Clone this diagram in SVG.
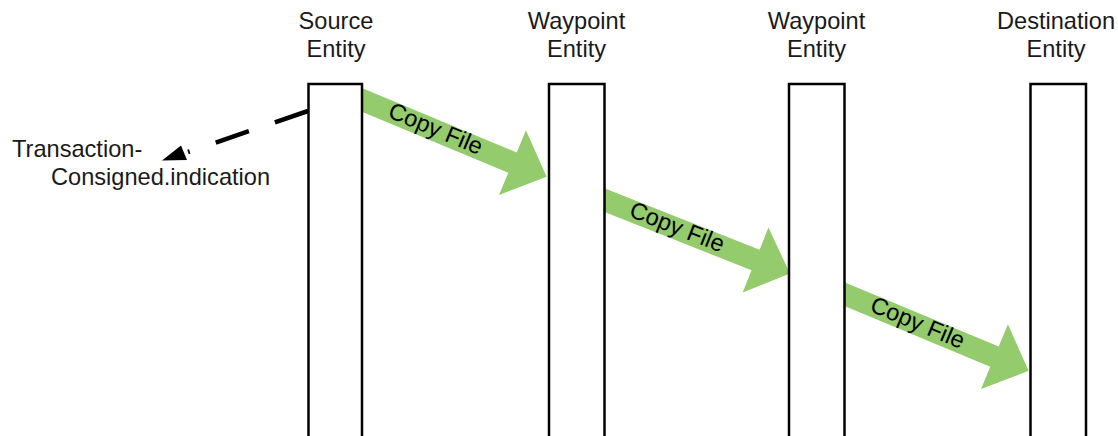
<svg xmlns="http://www.w3.org/2000/svg" width="1118" height="436" viewBox="0 0 1118 436">
<style>
  .lbl{font-family:"Liberation Sans",Arial,sans-serif;font-size:23.6px;fill:#1a1a1a;}
  .hdr{text-anchor:middle;}
  .life{fill:#ffffff;stroke:#000000;stroke-width:2.5;}
  .flow{fill:#94cb6d;stroke:none;}
  .cf{font-family:"Liberation Sans",Arial,sans-serif;font-size:23.6px;fill:#000000;text-anchor:middle;}
  .dash{fill:none;stroke:#000000;stroke-width:4.5;stroke-dasharray:35 27.5;}
</style>
<defs>
  <polygon id="bigArrow" points="-8,-11 163,-11 163,-35 200,0 163,35 163,11 -8,11"/>
</defs>
<rect width="1118" height="436" fill="#ffffff"/>

<g id="connectors">
  <g id="copy1" transform="translate(362,100) rotate(22.6)">
    <use href="#bigArrow" class="flow"/>
    <text class="cf" x="79" y="6">Copy File</text>
  </g>
  <g id="copy2" transform="translate(604,200) rotate(21.6)">
    <use href="#bigArrow" class="flow"/>
    <text class="cf" x="78" y="6">Copy File</text>
  </g>
  <g id="copy3" transform="translate(844,294) rotate(22.6)">
    <use href="#bigArrow" class="flow"/>
    <text class="cf" x="79" y="6">Copy File</text>
  </g>
  <g id="indication">
    <line class="dash" x1="308" y1="111" x2="188" y2="152"/>
    <polygon points="162,160.5 181,145.5 187,160" fill="#000000"/>
  </g>
</g>

<g id="source">
  <rect class="life" x="308.5" y="84" width="53.5" height="380"/>
  <text class="lbl hdr" x="336" y="29">Source</text>
  <text class="lbl hdr" x="336" y="57">Entity</text>
</g>
<g id="waypoint1">
  <rect class="life" x="549" y="84" width="55.5" height="380"/>
  <text class="lbl hdr" x="576.5" y="29">Waypoint</text>
  <text class="lbl hdr" x="576.5" y="57">Entity</text>
</g>
<g id="waypoint2">
  <rect class="life" x="789" y="84" width="55.5" height="380"/>
  <text class="lbl hdr" x="816.5" y="29">Waypoint</text>
  <text class="lbl hdr" x="816.5" y="57">Entity</text>
</g>
<g id="destination">
  <rect class="life" x="1030.5" y="84" width="55.5" height="380"/>
  <text class="lbl hdr" x="1056" y="29">Destination</text>
  <text class="lbl hdr" x="1056" y="57">Entity</text>
</g>
<g id="transaction-label">
  <text class="lbl" x="12" y="157">Transaction-</text>
  <text class="lbl" x="51" y="185">Consigned.indication</text>
</g>
</svg>
